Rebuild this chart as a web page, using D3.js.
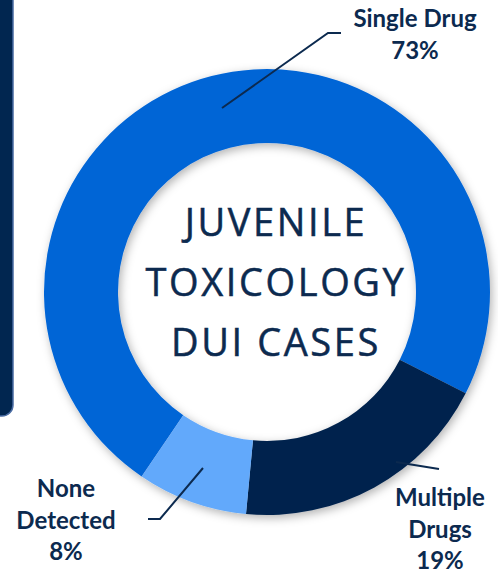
<!DOCTYPE html>
<html>
<head>
<meta charset="utf-8">
<script src="https://cdn.jsdelivr.net/npm/d3@7"></script>
<style>
  html, body { margin: 0; padding: 0; background: #fff; }
  svg { display: block; }
  .title { font-family: "Open Sans", "Noto Sans", sans-serif; }
  .lab { font-family: Lato, sans-serif; }
</style>
</head>
<body>
<div id="chart"></div>
<script>
// data
const categories = ["Single Drug", "Multiple Drugs", "None Detected"];
const shares = [73, 19, 8];
const labelLines = [["Single Drug", "73%"], ["Multiple", "Drugs", "19%"], ["None", "Detected", "8%"]];
const titleLines = ["JUVENILE", "TOXICOLOGY", "DUI CASES"];

const W = 498, H = 575;
const cx = 267, cy = 292;
const outerR = 223, innerR = 149;
const colors = ["#0565d6", "#01244d", "#62a9fb"];
const navy = "#0c2a4f";

const svg = d3.select("#chart").append("svg")
    .attr("width", W).attr("height", H)
    .attr("viewBox", [0, 0, W, H]);

const defs = svg.append("defs");
const f = defs.append("filter").attr("id", "shadow")
    .attr("x", "-20%").attr("y", "-20%").attr("width", "140%").attr("height", "140%");
f.append("feDropShadow").attr("dx", 2).attr("dy", 3).attr("stdDeviation", 5)
    .attr("flood-color", "#000").attr("flood-opacity", 0.3);

// panel on the left (cut off)
svg.append("rect")
    .attr("x", -30).attr("y", -30)
    .attr("width", 43).attr("height", 446)
    .attr("rx", 11)
    .attr("fill", "#012650")
    .attr("stroke", "#4a6ca3").attr("stroke-width", 1.5);

// donut; first slice starts a bit past 7 o'clock
const offset = 214.2 * Math.PI / 180;
const pie = d3.pie().sort(null).value(d => d)
    .startAngle(offset).endAngle(offset + 2 * Math.PI);
const arc = d3.arc().innerRadius(innerR).outerRadius(outerR);

const g = svg.append("g").attr("transform", `translate(${cx},${cy})`);
g.append("g").attr("filter", "url(#shadow)")
    .selectAll("path")
    .data(pie(shares))
    .join("path")
    .attr("d", arc)
    .attr("fill", (d, i) => colors[i]);

// centre title
const title = svg.append("text")
    .attr("class", "title")
    .attr("text-anchor", "middle")
    .attr("font-size", 38)
    .attr("letter-spacing", 2.6)
    .attr("fill", navy)
    .attr("stroke", navy)
    .attr("stroke-width", 0.5);
title.selectAll("tspan")
    .data(titleLines)
    .join("tspan")
    .attr("x", 276)
    .attr("y", (d, i) => 236 + i * 60)
    .text(d => d);

// leader lines
const leaders = [
    [[222, 108], [328, 33], [341, 33]],
    [[396, 462], [408, 464], [439, 469]],
    [[203, 468], [160, 519], [148, 519]]
];
const line = d3.line();
svg.selectAll("path.leader")
    .data(leaders)
    .join("path")
    .attr("class", "leader")
    .attr("d", line)
    .attr("fill", "none")
    .attr("stroke", navy)
    .attr("stroke-width", 2);

// labels
const labelPos = [[415, 27], [440, 506], [66, 497]];
const labelStep = [32, 31.5, 31.5];
svg.selectAll("text.lab")
    .data(labelLines)
    .join("text")
    .attr("class", "lab")
    .attr("text-anchor", "middle")
    .attr("font-weight", 700)
    .attr("font-size", 24)
    .attr("fill", navy)
    .each(function(lines, i) {
        d3.select(this).selectAll("tspan")
            .data(lines)
            .join("tspan")
            .attr("x", labelPos[i][0])
            .attr("y", (d, j) => labelPos[i][1] + j * labelStep[i])
            .text(d => d);
    });
</script>
</body>
</html>
